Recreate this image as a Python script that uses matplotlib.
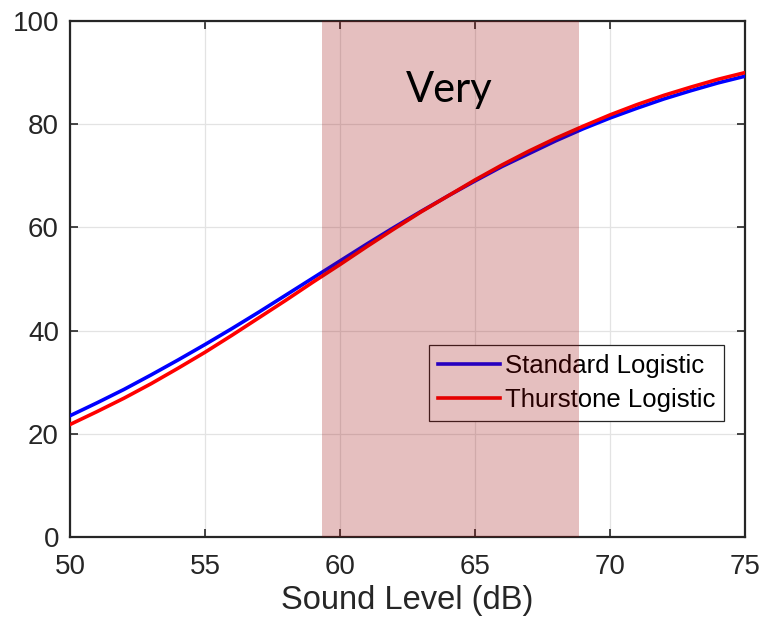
import matplotlib
matplotlib.use('Agg')
import matplotlib.pyplot as plt

# sound level (dB) and percentage
levels = [50, 51, 52, 53, 54, 55, 56, 57, 58, 59, 60, 61, 62,
          63, 64, 65, 66, 67, 68, 69, 70, 71, 72, 73, 74, 75]
standard = [23.5, 26.0, 28.6, 31.4, 34.3, 37.3, 40.4, 43.6, 46.9, 50.2, 53.5, 56.8, 60.0,
            63.1, 66.1, 69.0, 71.8, 74.3, 76.8, 79.1, 81.2, 83.1, 84.9, 86.5, 88.0, 89.3]
thurstone = [21.8, 24.3, 26.9, 29.7, 32.7, 35.8, 39.1, 42.5, 45.9, 49.4, 52.8, 56.3, 59.7,
             63.0, 66.1, 69.2, 72.1, 74.8, 77.3, 79.6, 81.8, 83.8, 85.6, 87.2, 88.7, 90.0]
band_lo, band_hi = 59.33, 68.84
band_label = "Very"
xticks = [50, 55, 60, 65, 70, 75]
yticks = [0, 20, 40, 60, 80, 100]

plt.rcParams['font.family'] = ['Liberation Sans', 'DejaVu Sans']
dark = '#262626'

fig = plt.figure(figsize=(7.64, 6.24), dpi=100)
ax = fig.add_axes([70 / 764, 87 / 624, 675 / 764, 516 / 624])

ax.plot(levels, standard, color='#0000ff', lw=2.6, label='Standard Logistic', zorder=3)
ax.plot(levels, thurstone, color='#ff0000', lw=2.6, label='Thurstone Logistic', zorder=3)

ax.set_xlim(50, 75)
ax.set_ylim(0, 100)
ax.set_xticks(xticks)
ax.set_yticks(yticks)
ax.grid(True, color='#e3e3e3', lw=0.9)
ax.set_axisbelow(True)
ax.tick_params(direction='in', length=6, width=1.2, top=True, right=True,
               labelsize=20, colors=dark, pad=8)
ax.tick_params(axis='x', pad=12)
for s in ax.spines.values():
    s.set_color(dark)
    s.set_linewidth(1.6)
ax.set_xlabel('Sound Level (dB)', fontsize=23.5, color=dark, labelpad=4)

leg = ax.legend(loc='upper right', bbox_to_anchor=(0.969, 0.372), fontsize=18.5,
                fancybox=False, framealpha=1, edgecolor=dark, handlelength=2.4,
                handletextpad=0.2, borderpad=0.35, labelspacing=0.4, borderaxespad=0)
leg.get_frame().set_linewidth(0.9)
leg.set_zorder(4)

# shaded band sits on top of everything, like the original
ax.axvspan(band_lo, band_hi, color='#990000', alpha=0.25, lw=0, zorder=5)
ax.text((band_lo + band_hi) / 2 - 0.05, 86.6, band_label, family=['Lato', 'DejaVu Sans'],
        fontsize=30, ha='center', va='center', color='black', zorder=6)

fig.savefig('out.png', dpi=100)
